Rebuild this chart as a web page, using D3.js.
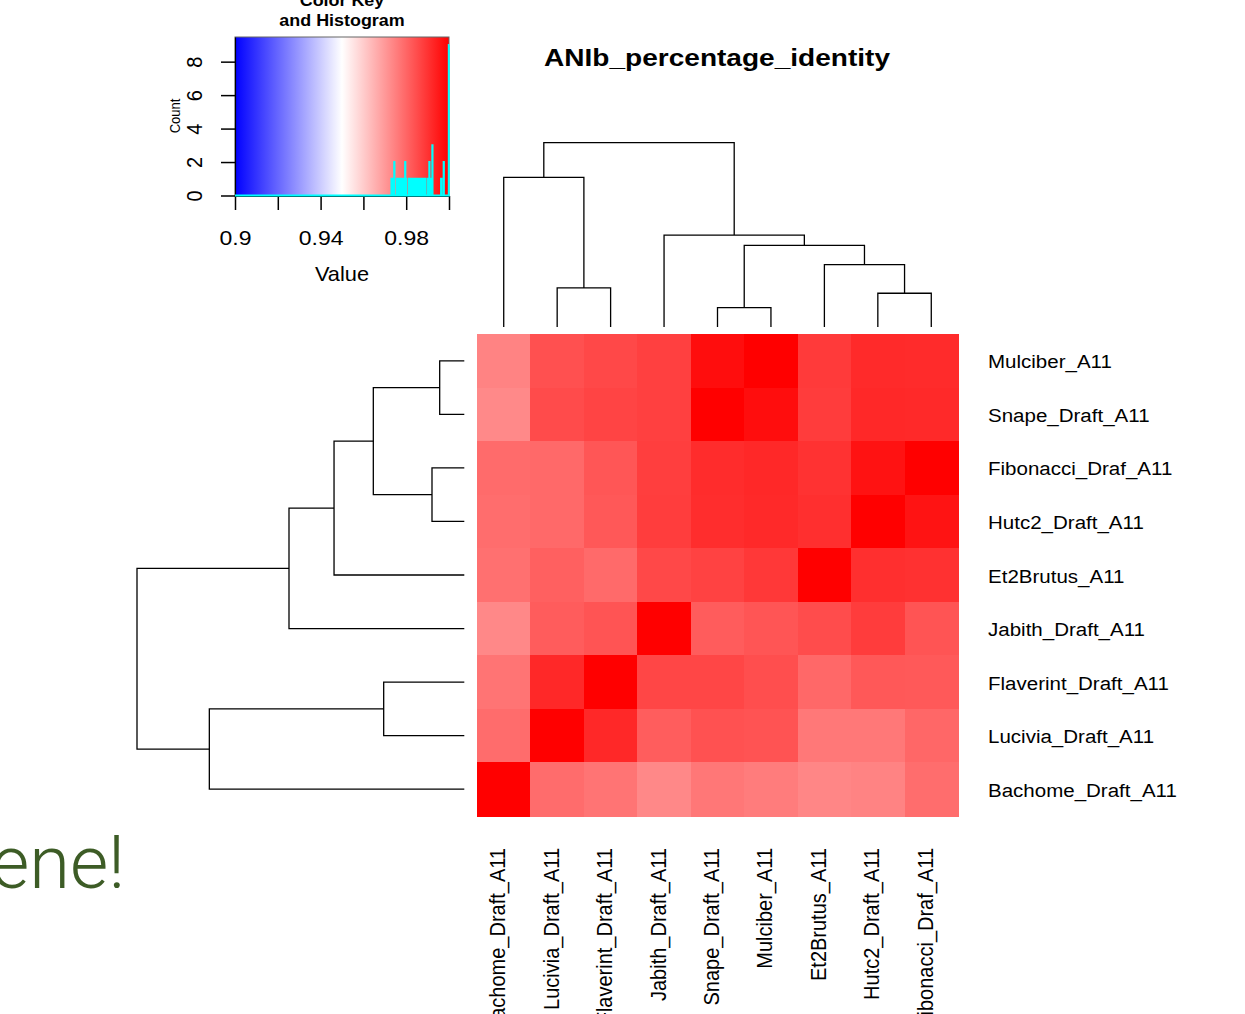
<!DOCTYPE html>
<html>
<head>
<meta charset="utf-8">
<script src="https://cdn.jsdelivr.net/npm/d3@7"></script>
<style>
  html, body { margin: 0; padding: 0; background: #fff; overflow: hidden; }
  text { font-family: "Liberation Sans", Arial, Helvetica, sans-serif; }
</style>
</head>
<body>
<svg id="chart" width="1245" height="1014"></svg>
<script>
// ---------------- data ----------------
const rowLabels = ["Mulciber_A11", "Snape_Draft_A11", "Fibonacci_Draf_A11", "Hutc2_Draft_A11",
  "Et2Brutus_A11", "Jabith_Draft_A11", "Flaverint_Draft_A11", "Lucivia_Draft_A11", "Bachome_Draft_A11"];
const colLabels = ["Bachome_Draft_A11", "Lucivia_Draft_A11", "Flaverint_Draft_A11", "Jabith_Draft_A11",
  "Snape_Draft_A11", "Mulciber_A11", "Et2Brutus_A11", "Hutc2_Draft_A11", "Fibonacci_Draf_A11"];

// ANIb identity, rows in rowLabels order, columns in colLabels order
const values = [
  [0.9744, 0.9843, 0.9859, 0.9875, 0.9975, 1.0000, 0.9886, 0.9918, 0.9916],
  [0.9731, 0.9852, 0.9867, 0.9874, 1.0000, 0.9975, 0.9882, 0.9922, 0.9919],
  [0.9790, 0.9795, 0.9831, 0.9878, 0.9914, 0.9921, 0.9902, 0.9964, 1.0000],
  [0.9787, 0.9795, 0.9828, 0.9880, 0.9912, 0.9920, 0.9908, 1.0000, 0.9963],
  [0.9781, 0.9812, 0.9792, 0.9858, 0.9871, 0.9890, 1.0000, 0.9908, 0.9904],
  [0.9734, 0.9820, 0.9836, 1.0000, 0.9819, 0.9834, 0.9851, 0.9883, 0.9835],
  [0.9773, 0.9922, 1.0000, 0.9863, 0.9862, 0.9847, 0.9797, 0.9827, 0.9826],
  [0.9789, 1.0000, 0.9922, 0.9818, 0.9842, 0.9837, 0.9765, 0.9764, 0.9799],
  [1.0000, 0.9788, 0.9772, 0.9733, 0.9766, 0.9757, 0.9737, 0.9744, 0.9786]
];

// Row dendrogram (hclust-like merges: strings = leaves, numbers = earlier merge step, 1-based)
const rowMerge = [
  ["Mulciber_A11", "Snape_Draft_A11"],
  ["Fibonacci_Draf_A11", "Hutc2_Draft_A11"],
  ["Flaverint_Draft_A11", "Lucivia_Draft_A11"],
  [1, 2],
  [4, "Et2Brutus_A11"],
  [5, "Jabith_Draft_A11"],
  [3, "Bachome_Draft_A11"],
  [6, 7]
];
const rowHeights = [0.0752, 0.0987, 0.2463, 0.278, 0.398, 0.5356, 0.779, 1.0];

// Column dendrogram
const colMerge = [
  ["Snape_Draft_A11", "Mulciber_A11"],
  ["Hutc2_Draft_A11", "Fibonacci_Draf_A11"],
  ["Lucivia_Draft_A11", "Flaverint_Draft_A11"],
  ["Et2Brutus_A11", 2],
  [1, 4],
  ["Jabith_Draft_A11", 5],
  ["Bachome_Draft_A11", 3],
  [7, 6]
];
const colHeights = [0.105, 0.183, 0.212, 0.338, 0.443, 0.499, 0.812, 1.0];

// Color key
const keyDomain = [0.9, 0.95, 1.0];
const keyColors = ["#0000FF", "#FFFFFF", "#FF0000"];
const keyTickValues = [0.9, 0.92, 0.94, 0.96, 0.98, 1.0];
const keyTickLabels = ["0.9", "", "0.94", "", "0.98", ""];
const countTickValues = [0, 2, 4, 6, 8];
const histBins = 1000;

const chartTitle = "ANIb_percentage_identity";
const keyTitle = ["Color Key", "and Histogram"];
const keyXLabel = "Value";
const keyYLabel = "Count";
const sideText = "ene!";

// ---------------- drawing ----------------
const svg = d3.select("#chart");
svg.append("rect").attr("width", 1245).attr("height", 1014).attr("fill", "#fff");

const color = d3.scaleLinear().domain(keyDomain).range(keyColors).clamp(true);

const xBand = d3.scaleBand().domain(colLabels).range([477, 958]);
const yBand = d3.scaleBand().domain(rowLabels).range([334, 816]);

// heatmap cells
const cells = [];
rowLabels.forEach((r, i) => colLabels.forEach((c, j) => cells.push({ r, c, v: values[i][j] })));
svg.append("g").selectAll("rect").data(cells).join("rect")
  .attr("x", d => xBand(d.c))
  .attr("y", d => yBand(d.r))
  .attr("width", xBand.bandwidth() + 0.5)
  .attr("height", yBand.bandwidth() + 0.5)
  .attr("fill", d => color(d.v))
  .attr("shape-rendering", "crispEdges");

// dendrogram helper
function dendroSegments(merge, heights, leafPos) {
  const nodes = [];
  const get = ref => (typeof ref === "string") ? { p: leafPos(ref), h: 0 } : nodes[ref - 1];
  const segs = [];
  merge.forEach((m, k) => {
    const a = get(m[0]), b = get(m[1]), h = heights[k];
    segs.push([[a.p, a.h], [a.p, h], [b.p, h], [b.p, b.h]]);
    nodes.push({ p: (a.p + b.p) / 2, h });
  });
  return segs;
}

// column dendrogram (top)
const colH = d3.scaleLinear().domain([0, 1]).range([327, 142.7]);
const colSegs = dendroSegments(colMerge, colHeights, c => xBand(c) + xBand.bandwidth() / 2);
svg.append("g").selectAll("path").data(colSegs).join("path")
  .attr("d", s => d3.line()(s.map(([p, h]) => [p, colH(h)])))
  .attr("fill", "none").attr("stroke", "#000").attr("stroke-width", 1.3);

// row dendrogram (left)
const rowH = d3.scaleLinear().domain([0, 1]).range([464.3, 137]);
const rowSegs = dendroSegments(rowMerge, rowHeights, r => yBand(r) + yBand.bandwidth() / 2);
svg.append("g").selectAll("path").data(rowSegs).join("path")
  .attr("d", s => d3.line()(s.map(([p, h]) => [rowH(h), p])))
  .attr("fill", "none").attr("stroke", "#000").attr("stroke-width", 1.3);

// row labels
svg.append("g").selectAll("text").data(rowLabels).join("text")
  .attr("transform", d => `translate(988,${yBand(d) + yBand.bandwidth() / 2 + 7.5}) scale(1.08,1)`)
  .attr("font-size", 19).attr("fill", "#000")
  .text(d => d);

// column labels
svg.append("g").selectAll("text").data(colLabels).join("text")
  .attr("transform", d => `translate(${xBand(d) + xBand.bandwidth() / 2 + 1.5},848) scale(1.1,1) rotate(-90)`)
  .attr("font-size", 20).attr("text-anchor", "end").attr("fill", "#000")
  .text(d => d);

// title
svg.append("text")
  .attr("transform", `translate(717,66) scale(1.22,1)`)
  .attr("text-anchor", "middle").attr("font-size", 23).attr("font-weight", "bold")
  .text(chartTitle);

// ---------------- color key ----------------
const kx = d3.scaleLinear().domain([keyDomain[0], keyDomain[2]]).range([235, 449]);
const defs = svg.append("defs");
const grad = defs.append("linearGradient").attr("id", "keygrad").attr("x1", "0%").attr("x2", "100%");
keyDomain.forEach((d, i) => grad.append("stop")
  .attr("offset", ((d - keyDomain[0]) / (keyDomain[2] - keyDomain[0]) * 100) + "%")
  .attr("stop-color", keyColors[i]));
svg.append("rect").attr("x", 235).attr("y", 37).attr("width", 214).attr("height", 159)
  .attr("fill", "url(#keygrad)");
svg.append("rect").attr("x", 235).attr("y", 37).attr("width", 214).attr("height", 159)
  .attr("fill", "none").attr("stroke", "#666").attr("stroke-width", 1);

// histogram computed from the matrix values
const flat = values.flat();
const bw = (keyDomain[2] - keyDomain[0]) / histBins;
const counts = new Array(histBins).fill(0);
flat.forEach(v => {
  let b = Math.floor((v - keyDomain[0]) / bw + 1e-6);
  if (b >= histBins) b = histBins - 1;
  if (b >= 0) counts[b]++;
});
const maxCount = d3.max(counts);
const ky = d3.scaleLinear().domain([0, maxCount / 0.95]).range([195.5, 37]);
const stepPts = d3.range(histBins + 1).map(i => [keyDomain[0] + i * bw, i < histBins ? counts[i] : counts[histBins - 1]]);

// x axis of key
const xAxisG = svg.append("g").attr("transform", "translate(0,196)")
  .call(d3.axisBottom(kx).tickValues(keyTickValues).tickSize(14).tickSizeOuter(0)
    .tickFormat((d, i) => keyTickLabels[i]));
xAxisG.select(".domain").attr("stroke", "#000").attr("stroke-width", 1.2);
xAxisG.selectAll(".tick line").attr("stroke", "#000").attr("stroke-width", 1.5);
xAxisG.selectAll(".tick text")
  .attr("y", 0).attr("dy", 0)
  .attr("transform", "translate(0,49) scale(1.15,1)")
  .attr("font-size", 20).attr("font-family", null).attr("fill", "#000");

svg.append("text").attr("transform", "translate(342,281) scale(1.09,1)")
  .attr("text-anchor", "middle").attr("font-size", 20).text(keyXLabel);

// y axis of key
const yAxisG = svg.append("g").attr("transform", "translate(235,0)")
  .call(d3.axisLeft(ky).tickValues(countTickValues).tickSize(14).tickSizeOuter(0).tickFormat(d3.format("d")));
yAxisG.select(".domain").attr("stroke", "#000").attr("stroke-width", 1.2);
yAxisG.selectAll(".tick line").attr("stroke", "#000").attr("stroke-width", 1.5);
yAxisG.selectAll(".tick text")
  .attr("x", 0).attr("y", 0).attr("dy", 0)
  .attr("text-anchor", "middle")
  .attr("transform", "translate(-33,0) scale(1.08,1) rotate(-90)")
  .attr("font-size", 20).attr("font-family", null).attr("fill", "#000");

// histogram step line (on top of frame, like R's lines())
svg.append("path")
  .attr("d", d3.line().x(d => kx(d[0])).y(d => ky(d[1])).curve(d3.curveStepAfter)(stepPts))
  .attr("fill", "none").attr("stroke", "#00FFFF").attr("stroke-width", 2);

svg.append("text").attr("transform", "translate(180,116) scale(1.15,1) rotate(-90)")
  .attr("text-anchor", "middle").attr("font-size", 13).text(keyYLabel);

// key title
svg.append("g").selectAll("text").data(keyTitle).join("text")
  .attr("transform", (d, i) => `translate(342,${6 + i * 20}) scale(1.12,1)`)
  .attr("text-anchor", "middle").attr("font-size", 16).attr("font-weight", "bold")
  .text(d => d);

// stray slide text at lower left
svg.append("text").attr("transform", "translate(125,888)")
  .attr("text-anchor", "end").attr("font-size", 74).attr("font-weight", 300)
  .attr("fill", "#3d5c26")
  .style("font-family", "Roboto, 'Open Sans', sans-serif")
  .text(sideText);
</script>
</body>
</html>
